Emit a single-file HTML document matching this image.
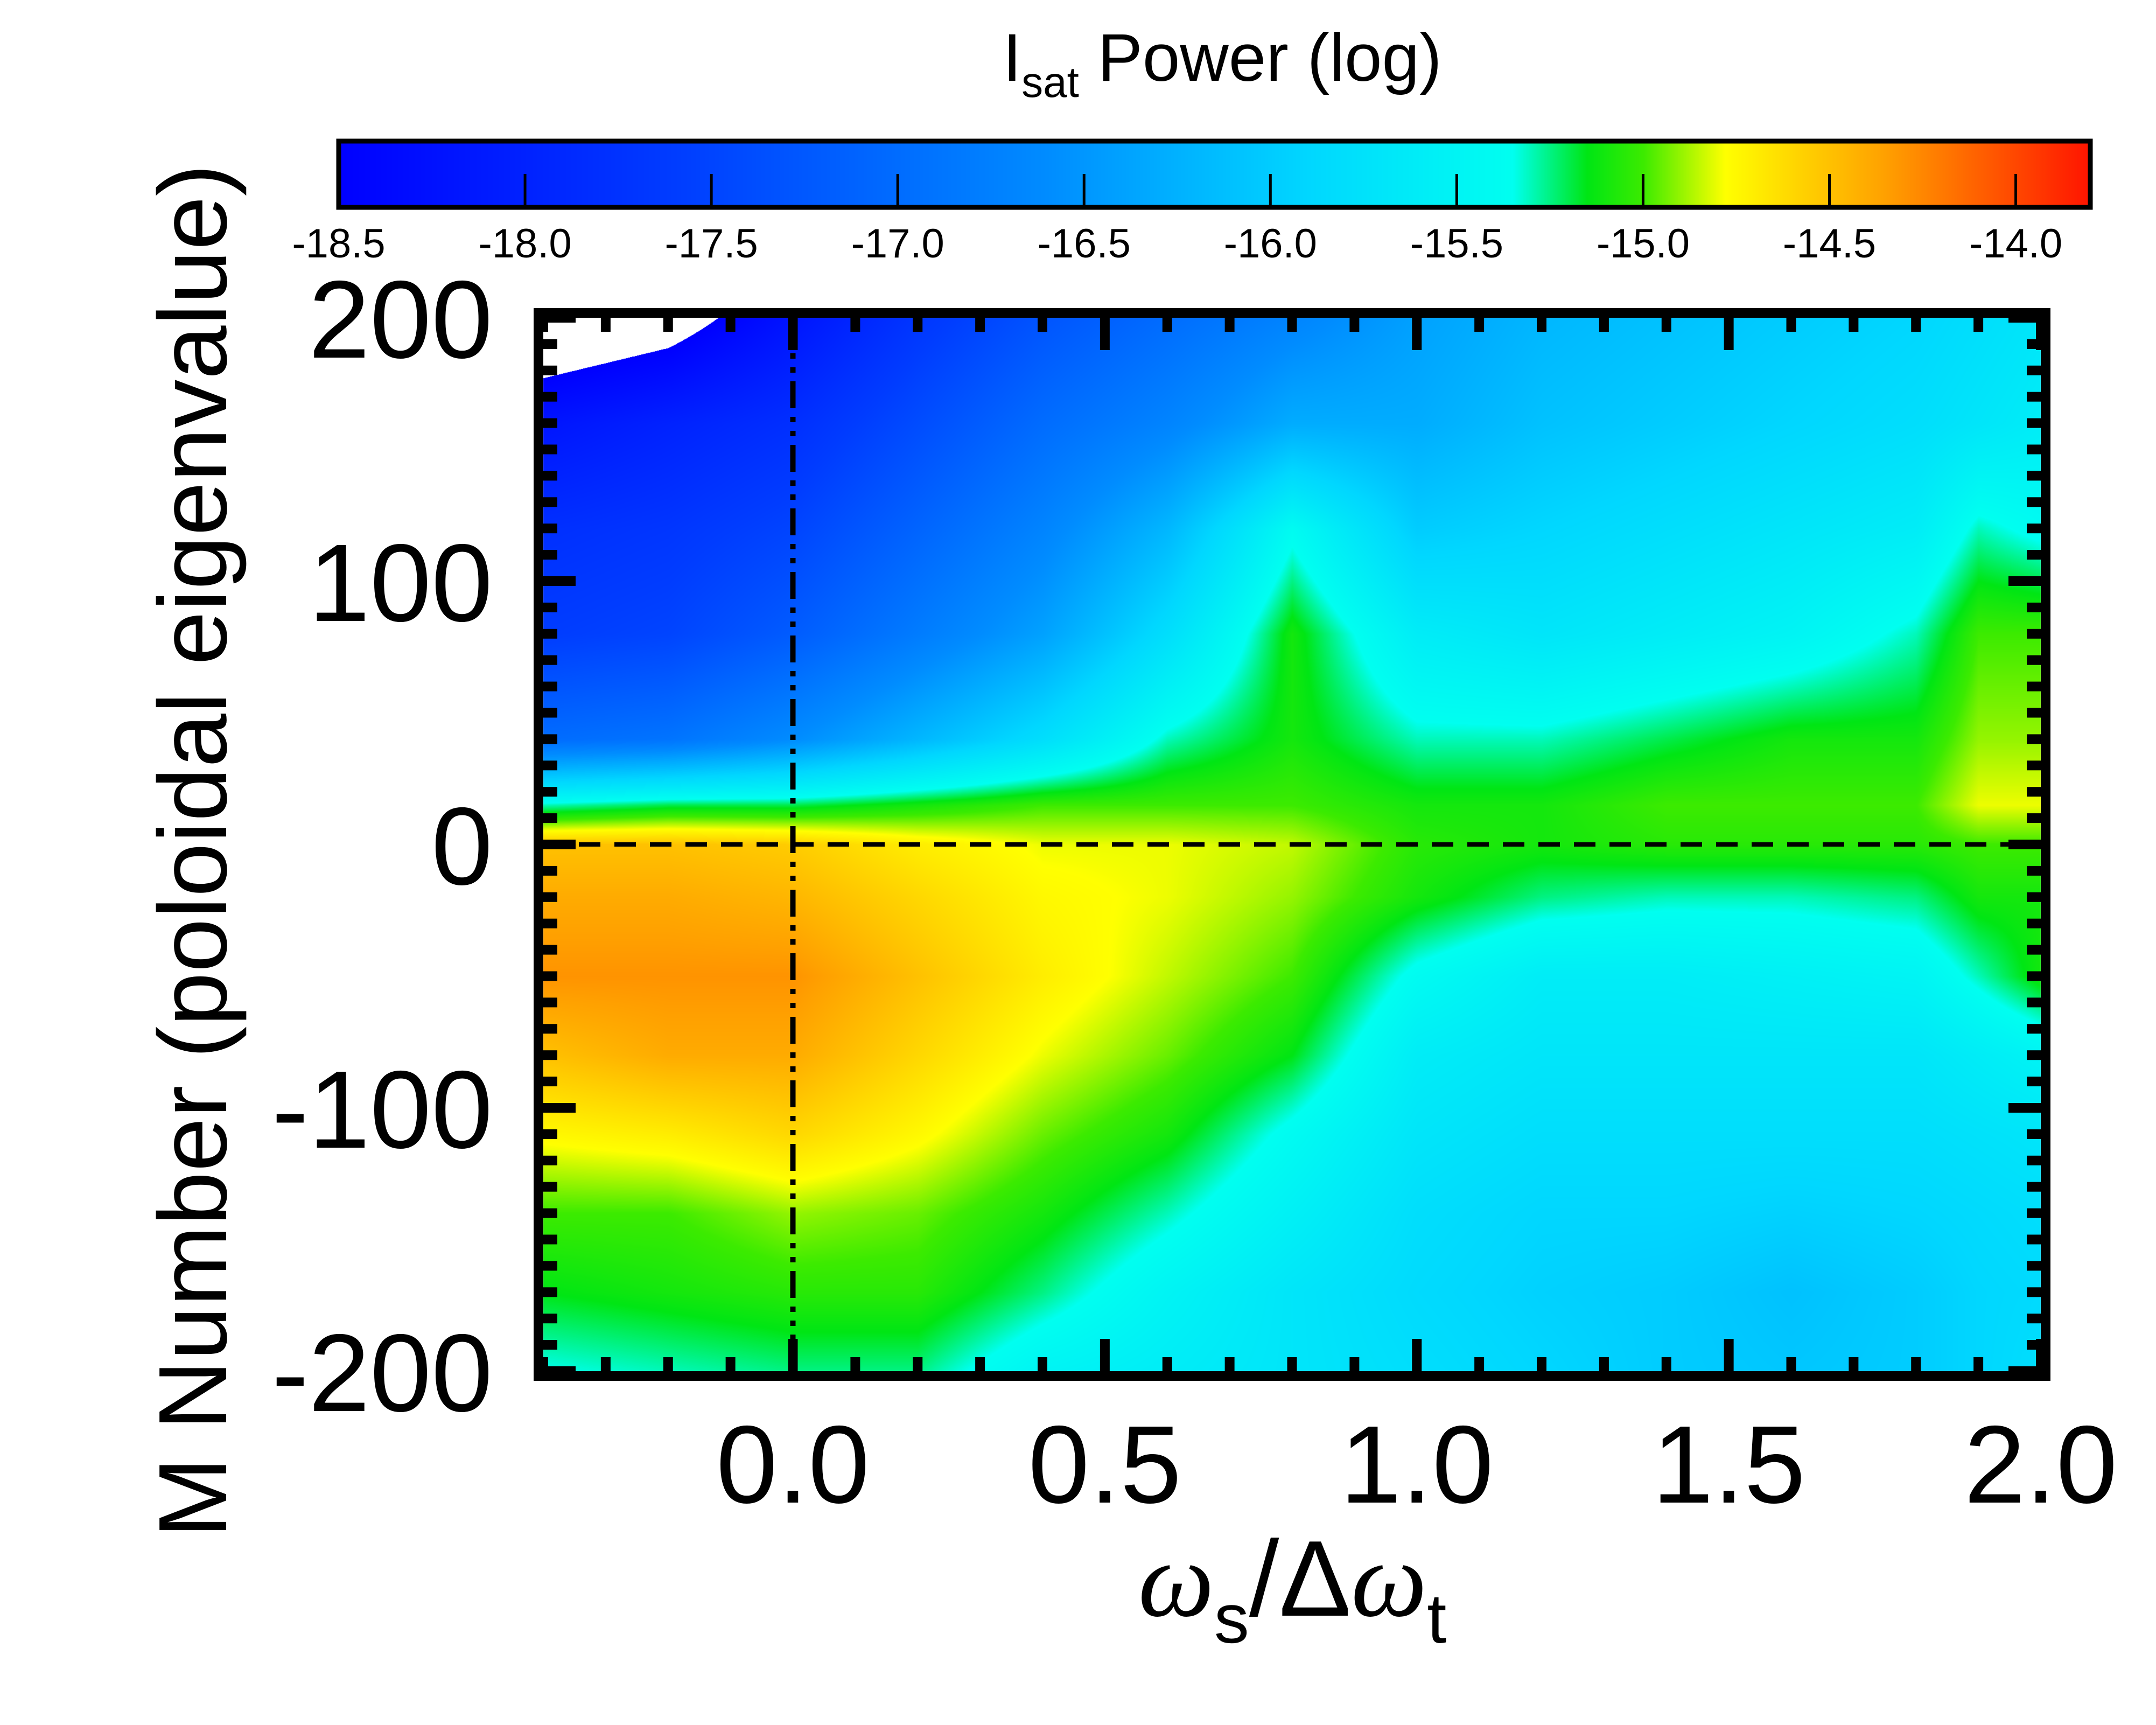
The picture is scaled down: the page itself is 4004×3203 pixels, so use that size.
<!DOCTYPE html>
<html><head><meta charset="utf-8"><style>
html,body{margin:0;padding:0;background:#fff;}
#wrap{position:relative;width:4004px;height:3203px;overflow:hidden;background:#fff;font-family:"Liberation Sans",sans-serif;}
canvas,svg{position:absolute;left:0;top:0;}
</style></head><body>
<div id="wrap">
<canvas id="heat" width="4004" height="3203"></canvas>
<svg id="ov" width="4004" height="3203"></svg>
</div>
<script>
// ---- data ----
const xCols=[-0.4,-0.2,0,0.2,0.4,0.6,0.8,1.0,1.2,1.4,1.6,1.8,1.9,2.0];
const yRows=[200,160,120,80,40,15,0,-20,-50,-80,-110,-140,-170,-200];
const gridValues=[
[-18.9,-18.7,-18.2,-17.7,-17.3,-17.0,-16.7,-16.4,-16.2,-16.1,-16.0,-15.9,-15.8,-15.7],
[-18.2,-18.0,-17.8,-17.4,-17.0,-16.7,-16.3,-16.3,-16.1,-16.0,-15.9,-15.8,-15.7,-15.6],
[-17.8,-17.7,-17.5,-17.1,-16.7,-16.2,-15.4,-16.0,-15.9,-15.8,-15.7,-15.6,-15.3,-15.4],
[-17.6,-17.5,-17.2,-16.8,-16.4,-15.8,-15.1,-15.6,-15.7,-15.6,-15.5,-15.3,-15.0,-15.0],
[-17.0,-16.9,-16.6,-16.2,-15.8,-15.3,-15.1,-15.3,-15.3,-15.2,-15.1,-15.1,-14.9,-14.9],
[-15.3,-15.2,-15.2,-15.1,-15.0,-15.0,-15.0,-15.1,-15.1,-15.0,-15.0,-15.0,-14.8,-14.8],
[-14.5,-14.5,-14.55,-14.7,-14.8,-14.8,-14.85,-15.05,-15.1,-15.05,-15.05,-15.05,-15.0,-15.0],
[-14.4,-14.4,-14.45,-14.6,-14.75,-14.8,-14.9,-15.1,-15.25,-15.3,-15.3,-15.25,-15.1,-15.1],
[-14.3,-14.3,-14.3,-14.5,-14.7,-14.85,-15.0,-15.4,-15.6,-15.6,-15.55,-15.5,-15.3,-15.1],
[-14.5,-14.4,-14.4,-14.6,-14.8,-14.95,-15.15,-15.6,-15.7,-15.7,-15.7,-15.7,-15.6,-15.5],
[-14.75,-14.7,-14.6,-14.75,-14.95,-15.1,-15.4,-15.7,-15.8,-15.8,-15.8,-15.8,-15.75,-15.7],
[-15.0,-15.0,-14.9,-14.95,-15.1,-15.3,-15.55,-15.8,-15.9,-15.9,-15.95,-15.9,-15.85,-15.8],
[-15.15,-15.1,-15.05,-15.05,-15.25,-15.5,-15.7,-15.85,-15.95,-16.0,-16.1,-16.0,-15.9,-15.85],
[-15.35,-15.3,-15.25,-15.25,-15.5,-15.6,-15.7,-15.8,-15.9,-16.0,-16.05,-16.0,-15.9,-15.8]];
const xTicks=[0.0,0.5,1.0,1.5,2.0];
const xTickLabels=["0.0","0.5","1.0","1.5","2.0"];
const yTicks=[200,100,0,-100,-200];
const yTickLabels=["200","100","0","-100","-200"];
const cbTicks=[-18.5,-18.0,-17.5,-17.0,-16.5,-16.0,-15.5,-15.0,-14.5,-14.0];
const cbTickLabels=["-18.5","-18.0","-17.5","-17.0","-16.5","-16.0","-15.5","-15.0","-14.5","-14.0"];

// ---- layout ----
const PL=1009,PR=3790,PT=590,PB=2546;
const XMIN=-0.4,XMAX=2.0,YMIN=-200,YMAX=200;
const sx=v=>PL+(v-XMIN)/(XMAX-XMIN)*(PR-PL);
const sy=v=>PB-(v-YMIN)/(YMAX-YMIN)*(PB-PT);
const CL=629,CR=3882,CT=262,CB=385,CMIN=-18.5,CMAX=-13.8;
const cx=v=>CL+(v-CMIN)/(CMAX-CMIN)*(CR-CL);

const stops=[[-18.5,[0,0,255]],[-17.6,[0,60,255]],[-16.6,[0,140,255]],[-15.9,[0,215,255]],[-15.35,[0,255,240]],[-15.15,[0,230,20]],[-15.0,[60,235,0]],[-14.78,[255,255,0]],[-14.35,[255,160,0]],[-13.8,[255,20,0]]];
function cmap(v){
  if(v<=stops[0][0])return stops[0][1];
  for(let i=1;i<stops.length;i++){if(v<=stops[i][0]){const a=stops[i-1],b=stops[i];const t=(v-a[0])/(b[0]-a[0]);return a[1].map((c,k)=>Math.round(c+(b[1][k]-c)*t));}}
  return stops[stops.length-1][1];
}
function interp(arr,v){
  const asc=arr[arr.length-1]>arr[0];
  for(let i=0;i<arr.length-1;i++){const a=arr[i],b=arr[i+1];
    if(asc?(v>=a&&v<=b):(v<=a&&v>=b))return [i,(v-a)/(b-a)];}
  return v<(asc?arr[0]:arr[arr.length-1])?(asc?[0,0]:[arr.length-2,1]):(asc?[arr.length-2,1]:[0,0]);
}
function val(x,y){
  const [i,fx]=interp(xCols,x),[j,fy]=interp(yRows,y);
  const g=gridValues;const a=fx,b=fy;
  return (g[j][i]*(1-a)+g[j][i+1]*a)*(1-b)+(g[j+1][i]*(1-a)+g[j+1][i+1]*a)*b;
}
const ctx=document.getElementById('heat').getContext('2d');
const W=PR-PL,H=PB-PT;
const img=ctx.createImageData(W,H);
for(let py=0;py<H;py++){const y=YMAX-(py/H)*(YMAX-YMIN);
  for(let px=0;px<W;px++){const x=XMIN+(px/W)*(XMAX-XMIN);
    const v=val(x,y);const o=(py*W+px)*4;
    if(v<-18.5){img.data[o]=255;img.data[o+1]=255;img.data[o+2]=255;}
    else{const c=cmap(v);img.data[o]=c[0];img.data[o+1]=c[1];img.data[o+2]=c[2];}
    img.data[o+3]=255;}}
ctx.putImageData(img,PL,PT);
for(let px=CL;px<CR;px++){const v=CMIN+(px-CL)/(CR-CL)*(CMAX-CMIN);const c=cmap(v);ctx.fillStyle=`rgb(${c[0]},${c[1]},${c[2]})`;ctx.fillRect(px,CT,1,CB-CT);}

const NS='http://www.w3.org/2000/svg';const svg=document.getElementById('ov');
function el(tag,attrs,parent){const e=document.createElementNS(NS,tag);for(const k in attrs)e.setAttribute(k,attrs[k]);(parent||svg).appendChild(e);return e;}
let l=el('line',{x1:PL,x2:PR,y1:sy(0),y2:sy(0),stroke:'#000','stroke-width':8,'stroke-dasharray':'40 26'});


l=el('line',{x1:sx(0),x2:sx(0),y1:PT,y2:PB,stroke:'#000','stroke-width':10,'stroke-dasharray':'50 16 10 16 10 16'});


const tg=el('g',{fill:'#000'});


for(let k=-4;k<=20;k++){const v=k/10;const x=sx(v);const major=(k%5===0);const len=major?60:26;
  el('rect',{x:x-9,y:PT,width:18,height:len},tg);el('rect',{x:x-9,y:PB-len,width:18,height:len},tg);}
for(let v=-200;v<=200;v+=10){const y=sy(v);const major=(v%100===0);const len=major?60:26;
  el('rect',{x:PL,y:y-9,width:len,height:18},tg);el('rect',{x:PR-len,y:y-9,width:len,height:18},tg);}
let f=el('rect',{x:PL-9,y:PT-9,width:PR-PL+18,height:PB-PT+18,fill:'none',stroke:'#000','stroke-width':18});


xTicks.forEach((v,i)=>{const t=el('text',{x:sx(v),y:2790,'font-size':205,'text-anchor':'middle'});t.textContent=xTickLabels[i];
  
  });
yTicks.forEach((v,i)=>{const t=el('text',{x:915,y:sy(v)+74,'font-size':205,'text-anchor':'end'});t.textContent=yTickLabels[i];
  
  });
f=el('rect',{x:CL,y:CT,width:CR-CL,height:CB-CT,fill:'none',stroke:'#000','stroke-width':9});


cbTicks.forEach((v,i)=>{const x=cx(v);
  if(i>0){const tk=el('line',{x1:x,x2:x,y1:CB,y2:CB-62,stroke:'#000','stroke-width':5});
    
    }
  const t=el('text',{x:x,y:478,'font-size':76,'text-anchor':'middle'});t.textContent=cbTickLabels[i];
  
  });
</script>
<svg width="4004" height="3203" style="position:absolute;left:0;top:0">
<text x="2270" y="150" font-size="125" text-anchor="middle" font-family="Liberation Sans, sans-serif">I<tspan font-size="80" dy="30">sat</tspan><tspan dy="-30"> Power (log)</tspan></text>
<text transform="translate(420,1580) rotate(-90)" font-size="180" text-anchor="middle" font-family="Liberation Sans, sans-serif">M Number (poloidal eigenvalue)</text>
<text x="2400" y="3000" font-size="200" text-anchor="middle" font-family="Liberation Serif, serif"><tspan font-style="italic">ω</tspan><tspan font-family="Liberation Sans, sans-serif" font-size="130" dy="50">s</tspan><tspan dy="-50" font-family="Liberation Sans, sans-serif">/Δ</tspan><tspan font-style="italic">ω</tspan><tspan font-family="Liberation Sans, sans-serif" font-size="130" dy="50">t</tspan></text>
</svg>
</body></html>
